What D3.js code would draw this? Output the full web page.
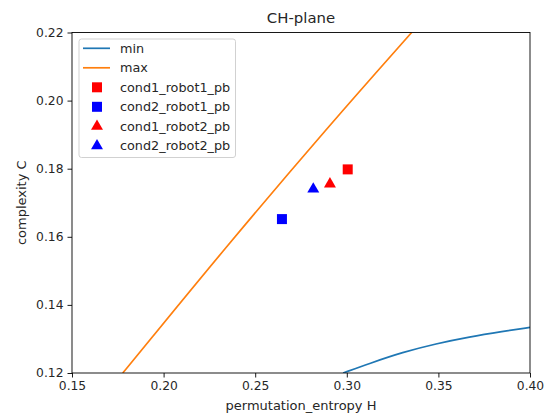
<!DOCTYPE html>
<html>
<head>
<meta charset="utf-8">
<script src="https://cdn.jsdelivr.net/npm/d3@7"></script>
<style>
  body { margin: 0; background: #fff; }
  text { font-family: "DejaVu Sans", sans-serif; fill: #262626; }
</style>
</head>
<body>
<div id="chart"></div>
<script>
// curves (H, C)
const minH = [0.2980, 0.3123, 0.3305, 0.3487, 0.3669, 0.3851, 0.4000];
const minC = [0.1200, 0.1228, 0.1261, 0.1286, 0.1306, 0.1322, 0.1334];
const maxH = [0.1777, 0.1880, 0.2326, 0.2904, 0.3354];
const maxC = [0.1200, 0.1267, 0.1561, 0.1927, 0.2200];

// points
const pointNames = ["cond1_robot1_pb", "cond2_robot1_pb", "cond1_robot2_pb", "cond2_robot2_pb"];
const pointH = [0.3005, 0.2646, 0.2908, 0.2817];
const pointC = [0.1798, 0.1652, 0.1755, 0.1740];
const pointColor = ["red", "blue", "red", "blue"];
const pointShape = ["square", "square", "triangle", "triangle"];

const xTicks = [0.15, 0.20, 0.25, 0.30, 0.35, 0.40];
const yTicks = [0.12, 0.14, 0.16, 0.18, 0.20, 0.22];

const w = 552, h = 414;
const m = {left: 72, right: 22, top: 32.5, bottom: 41};

const svg = d3.select("#chart").append("svg")
  .attr("width", w).attr("height", h);

const xScale = d3.scaleLinear().domain([0.15, 0.40]).range([m.left, w - m.right]);
const yScale = d3.scaleLinear().domain([0.12, 0.22]).range([h - m.bottom, m.top]);

svg.append("clipPath").attr("id", "clip")
  .append("rect")
  .attr("x", m.left).attr("y", m.top)
  .attr("width", w - m.left - m.right).attr("height", h - m.top - m.bottom);

// curves
const line = d3.line().x(d => xScale(d[0])).y(d => yScale(d[1])).curve(d3.curveBasis);
const plot = svg.append("g").attr("clip-path", "url(#clip)");
plot.append("path")
  .datum(d3.zip(minH, minC))
  .attr("d", line)
  .attr("fill", "none").attr("stroke", "#1f77b4").attr("stroke-width", 1.7);
plot.append("path")
  .datum(d3.zip(maxH, maxC))
  .attr("d", line)
  .attr("fill", "none").attr("stroke", "#ff7f0e").attr("stroke-width", 1.7);

const sqSym = d3.symbol().type(d3.symbolSquare).size(100);
const triSym = d3.symbol().type(d3.symbolTriangle).size(62);

// markers
pointNames.forEach((name, i) => {
  svg.append("path")
    .attr("d", pointShape[i] === "square" ? sqSym() : triSym())
    .attr("transform", "translate(" + xScale(pointH[i]) + "," + yScale(pointC[i]) + ")")
    .attr("fill", pointColor[i]);
});

// axes
const xAxis = d3.axisBottom(xScale).tickValues(xTicks).tickFormat(d3.format(".2f")).tickSizeOuter(0).tickSize(4.5).tickPadding(4);
const yAxis = d3.axisLeft(yScale).tickValues(yTicks).tickFormat(d3.format(".2f")).tickSizeOuter(0).tickSize(4.5).tickPadding(4);
svg.append("g").attr("transform", "translate(0," + (h - m.bottom) + ")").call(xAxis);
svg.append("g").attr("transform", "translate(" + m.left + ",0)").call(yAxis);
svg.selectAll(".tick text").attr("font-size", 12.3).attr("font-family", "DejaVu Sans").style("fill", "#262626");
svg.selectAll(".tick line").attr("stroke", "#000").attr("stroke-width", 0.9);
svg.selectAll(".domain").remove();

// frame
svg.append("rect")
  .attr("x", m.left).attr("y", m.top)
  .attr("width", w - m.left - m.right).attr("height", h - m.top - m.bottom)
  .attr("fill", "none").attr("stroke", "#000").attr("stroke-width", 0.9);

// text
svg.append("text").attr("x", (m.left + w - m.right) / 2).attr("y", 23)
  .attr("text-anchor", "middle").attr("font-size", 14.9).text("CH-plane");
svg.append("text").attr("x", (m.left + w - m.right) / 2).attr("y", 410)
  .attr("text-anchor", "middle").attr("font-size", 13).text("permutation_entropy H");
svg.append("text").attr("transform", "translate(25.5," + (m.top + h - m.bottom) / 2 + ") rotate(-90)")
  .attr("text-anchor", "middle").attr("font-size", 13).text("complexity C");

// legend
const leg = svg.append("g");
leg.append("rect").attr("x", 79).attr("y", 39).attr("width", 156.5).attr("height", 118.5)
  .attr("rx", 2.5).attr("fill", "#fff").attr("fill-opacity", 0.8)
  .attr("stroke", "#cccccc").attr("stroke-width", 0.9);
const legNames = ["min", "max"].concat(pointNames);
legNames.forEach((name, i) => {
  const yy = 48.3 + i * 19.5;
  if (i < 2) {
    leg.append("line").attr("x1", 83).attr("x2", 110).attr("y1", yy).attr("y2", yy)
      .attr("stroke", i === 0 ? "#1f77b4" : "#ff7f0e").attr("stroke-width", 1.7);
  } else {
    const k = i - 2;
    leg.append("path")
      .attr("d", pointShape[k] === "square" ? sqSym() : triSym())
      .attr("transform", "translate(97," + yy + ")")
      .attr("fill", pointColor[k]);
  }
  leg.append("text").attr("x", 120).attr("y", yy + 4.5).attr("font-size", 12.8).text(name);
});
</script>
</body>
</html>
